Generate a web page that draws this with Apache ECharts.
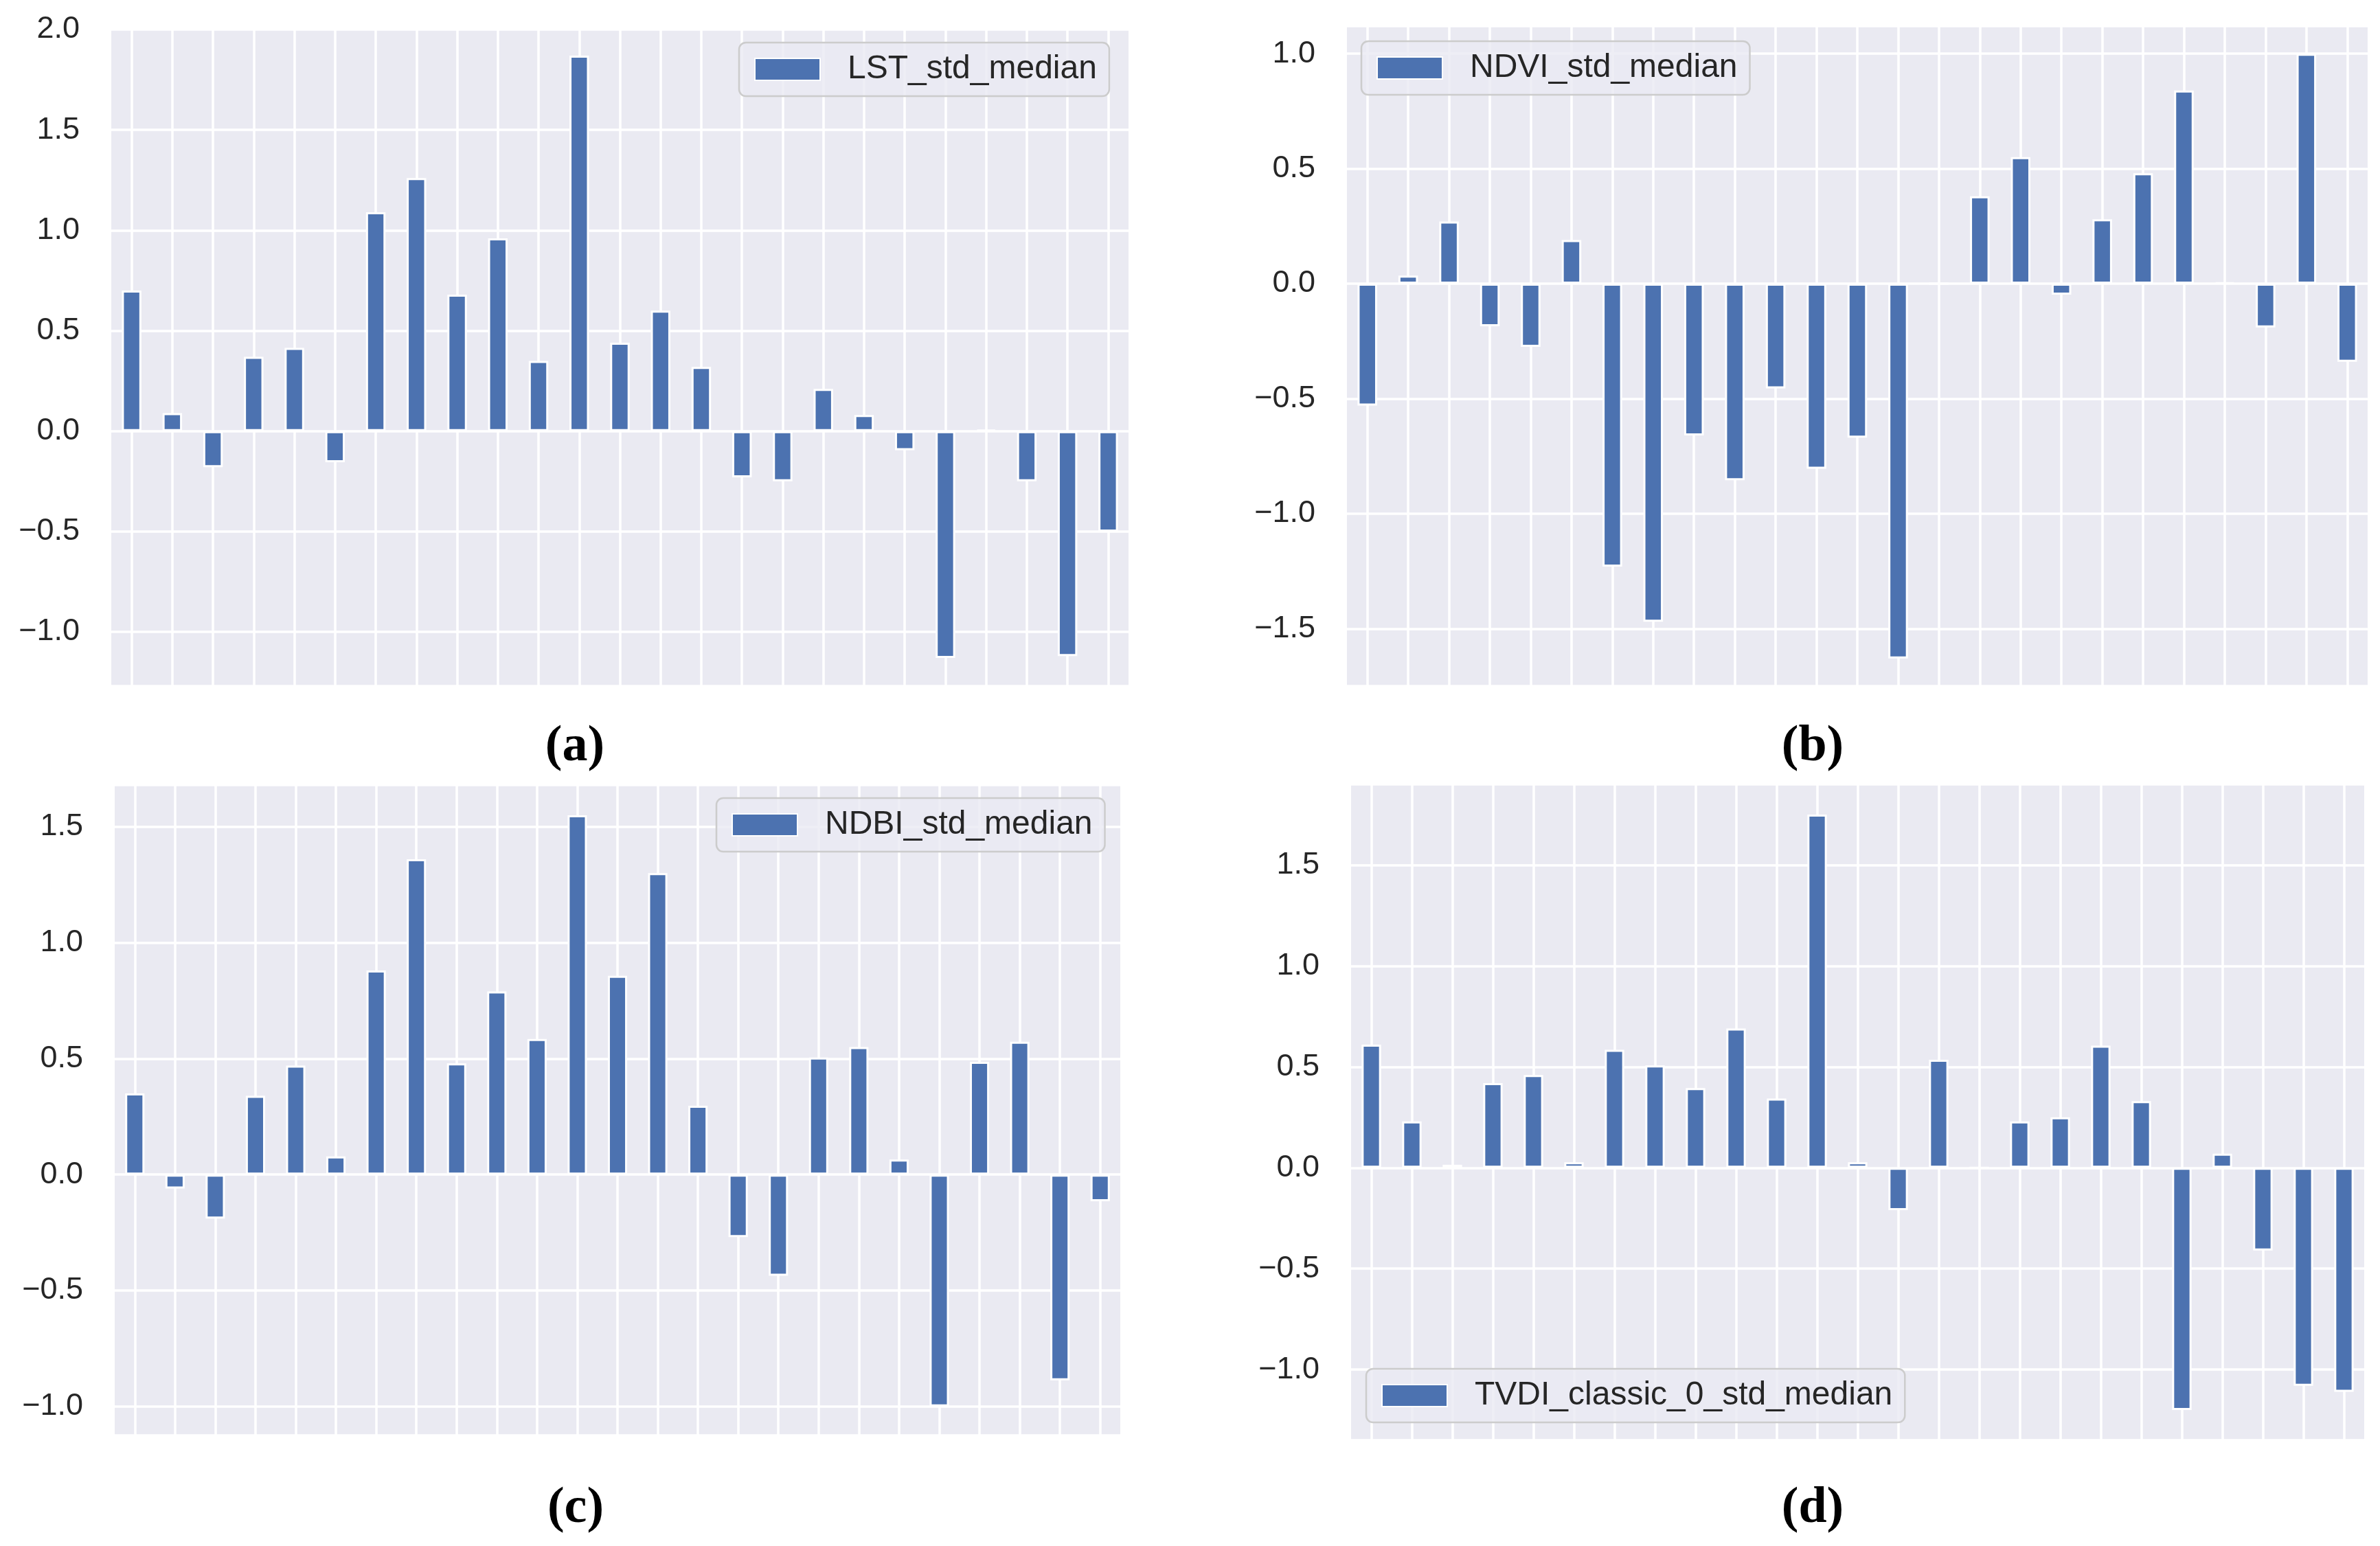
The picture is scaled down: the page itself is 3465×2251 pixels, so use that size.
<!DOCTYPE html>
<html>
<head>
<meta charset="utf-8">
<script src="https://cdn.jsdelivr.net/npm/echarts@6/dist/echarts.min.js"></script>
<style>
html,body{margin:0;padding:0;background:#fff;}
#chart{width:3465px;height:2251px;}
</style>
</head>
<body>
<div id="chart"></div>
<script>
// ---- data ----
const categories = ['1','2','3','4','5','6','7','8','9','10','11','12','13','14','15','16','17','18','19','20','21','22','23','24','25'];
const seriesNames = ['LST_std_median','NDVI_std_median','NDBI_std_median','TVDI_classic_0_std_median'];
const captions = ['a','b','c','d'];
const lstValues  = [0.70, 0.09, -0.18, 0.37, 0.415, -0.155, 1.09, 1.26, 0.68, 0.96, 0.35, 1.87, 0.44, 0.60, 0.32, -0.23, -0.25, 0.21, 0.08, -0.095, -1.13, 0.007, -0.25, -1.12, -0.50];
const ndviValues = [-0.53, 0.035, 0.27, -0.185, -0.275, 0.19, -1.23, -1.47, -0.66, -0.855, -0.455, -0.805, -0.67, -1.63, 0, 0.38, 0.55, -0.048, 0.28, 0.48, 0.84, 0.005, -0.19, 1.0, -0.34];
const ndbiValues = [0.35, -0.06, -0.19, 0.34, 0.47, 0.078, 0.88, 1.36, 0.48, 0.79, 0.585, 1.55, 0.857, 1.30, 0.297, -0.27, -0.436, 0.505, 0.55, 0.065, -1.0, 0.486, 0.573, -0.887, -0.115];
const tvdiValues = [0.61, 0.23, 0.015, 0.42, 0.46, 0.027, 0.585, 0.507, 0.395, 0.69, 0.343, 1.75, 0.027, -0.21, 0.535, 0, 0.23, 0.25, 0.605, 0.33, -1.20, 0.07, -0.41, -1.08, -1.11];
const allValues = [lstValues, ndviValues, ndbiValues, tvdiValues];
const yMins = [-1.27, -1.75, -1.125, -1.35];
const yMaxs = [2.0, 1.12, 1.68, 1.90];

// ---- layout ----
const grids = [
  {left:162, top:43, width:1481, height:956},
  {left:1961, top:38, width:1486, height:961},
  {left:167, top:1143, width:1464, height:947},
  {left:1967, top:1142, width:1475, height:955}
];
const legendPos = [
  {left:1076, top:62},
  {left:1982, top:60},
  {left:1043, top:1162},
  {left:1989, top:1993}
];
const captionPos = [[832,1090],[2634,1090],[833,2199],[2634,2199]];

const BLUE = '#4C72B0';
const BG = '#EAEAF2';
const TXT = '#262626';
const FONT = 'Liberation Sans, Arial, sans-serif';

function tickFmt(v){
  if (Math.abs(v*2 - Math.round(v*2)) > 1e-6) return '';
  return (v < 0 ? '\u2212' : '') + Math.abs(v).toFixed(1);
}

const option = {
  animation:false,
  backgroundColor:'#ffffff',
  grid: grids.map(g => Object.assign({show:true, backgroundColor:BG, borderWidth:0, containLabel:false}, g)),
  xAxis: grids.map((g,i) => ({
    type:'category', gridIndex:i, data:categories, boundaryGap:true,
    axisLine:{show:false}, axisTick:{show:false}, axisLabel:{show:false},
    splitLine:{show:true, alignWithLabel:true, lineStyle:{color:'#ffffff', width:3.5}}
  })),
  yAxis: grids.map((g,i) => ({
    type:'value', gridIndex:i, min:yMins[i], max:yMaxs[i], minInterval:0.5, maxInterval:0.5,
    axisLine:{show:false}, axisTick:{show:false},
    axisLabel:{show:true, formatter:tickFmt, fontSize:45, color:TXT, fontFamily:FONT, margin:46},
    splitLine:{show:true, lineStyle:{color:'#ffffff', width:3.5}}
  })),
  legend: grids.map((g,i) => ({
    data:[seriesNames[i]], left:legendPos[i].left, top:legendPos[i].top,
    orient:'horizontal', icon:'rect', itemWidth:95, itemHeight:32, selectedMode:false,
    padding:[15,18,15,22],
    backgroundColor:'rgba(234,234,242,0.8)', borderColor:'#cccccc', borderWidth:2.5, borderRadius:10,
    textStyle:{fontSize:48, color:TXT, fontFamily:FONT, padding:[0,0,0,35]}
  })),
  title: captions.map((c,i) => ({
    text:'{p|(}{b|' + c + '}{p|)}',
    left:captionPos[i][0], top:captionPos[i][1] - 44, textAlign:'center',
    textStyle:{rich:{
      p:{fontSize:74, fontFamily:'Liberation Serif, serif', color:'#000'},
      b:{fontSize:74, fontFamily:'Liberation Serif, serif', fontWeight:'bold', color:'#000'}
    }}
  })),
  series: allValues.map((vals,i) => ({
    type:'bar', name:seriesNames[i], xAxisIndex:i, yAxisIndex:i, data:vals,
    barWidth:'48%',
    itemStyle:{color:BLUE, borderColor:'#ffffff', borderWidth:3}
  }))
};

const chart = echarts.init(document.getElementById('chart'), null, {renderer:'canvas'});
chart.setOption(option);
</script>
</body>
</html>
